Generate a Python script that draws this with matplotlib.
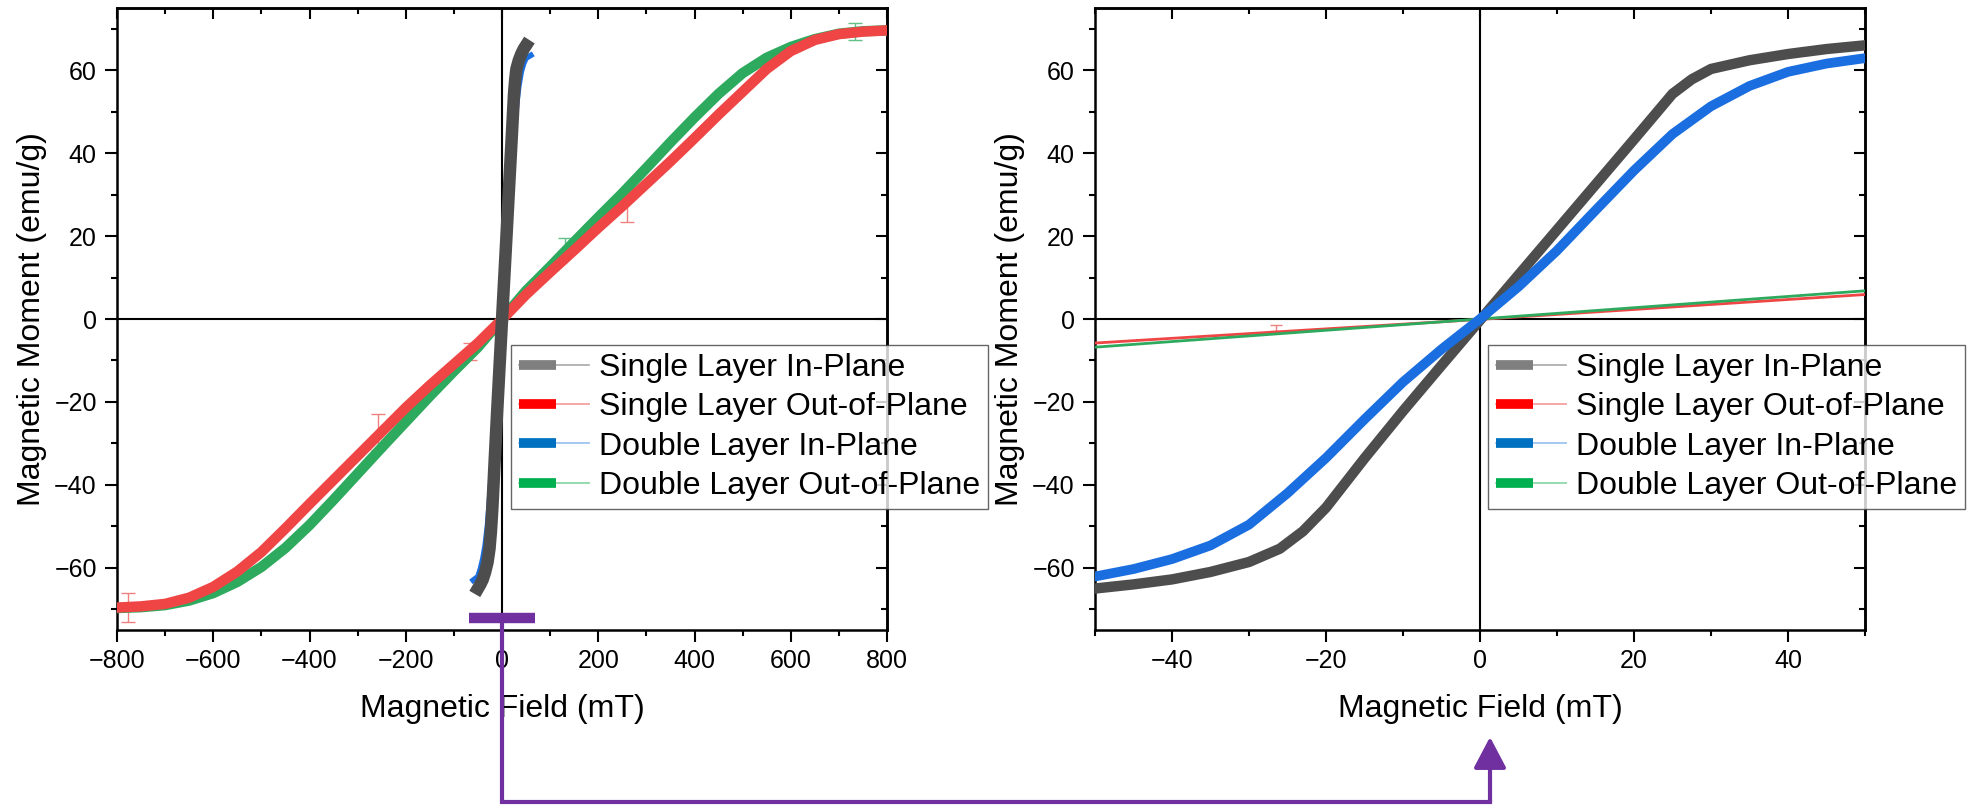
import numpy as np
import matplotlib.pyplot as plt
from matplotlib.lines import Line2D
from matplotlib.patches import FancyArrowPatch
from matplotlib.legend_handler import HandlerBase
from matplotlib.ticker import MultipleLocator

plt.rcParams['font.family'] = ['Liberation Sans', 'DejaVu Sans']
plt.rcParams['axes.unicode_minus'] = True

# Single Layer In-Plane (mT, emu/g)
sl_ip_x = [-50, -45, -40, -35, -30, -26, -23, -20, -15, -10, -5, 0,
           5, 10, 15, 20, 25, 27.5, 30, 35, 40, 45, 50]
sl_ip_y = [-65.0, -64.0, -62.8, -61.0, -58.6, -55.4, -51.2, -45.5, -33.6, -22.2, -11.2, -0.3,
           10.6, 21.5, 32.4, 43.3, 54.3, 57.8, 60.3, 62.4, 63.9, 65.1, 66.0]

# Double Layer In-Plane
dl_ip_x = [-60, -50, -45, -40, -35, -30, -25, -20, -15, -10, -5, 0,
           5, 10, 15, 20, 25, 30, 35, 40, 45, 50, 60]
dl_ip_y = [-63.0, -62.1, -60.3, -57.9, -54.6, -49.6, -42.0, -33.5, -24.2, -15.2, -7.3, 0.0,
           7.8, 16.5, 26.2, 35.8, 44.6, 51.3, 56.2, 59.6, 61.6, 62.9, 63.6]

# Single Layer Out-of-Plane
sl_op_x = [-800, -750, -700, -650, -600, -550, -500, -450, -400, -350, -300, -250, -200, -150, -100, -50, 0,
           50, 100, 150, 200, 250, 300, 350, 400, 450, 500, 550, 600, 650, 700, 750, 800]
sl_op_y = [-69.6, -69.3, -68.7, -67.2, -64.6, -60.9, -56.2, -50.5, -44.6, -38.8, -33.0, -27.2, -21.4, -16.0, -10.9, -5.8, -0.1,
           5.9, 11.3, 16.6, 22.0, 27.2, 32.6, 38.0, 43.6, 49.3, 54.8, 60.3, 64.6, 67.3, 68.7, 69.3, 69.6]

# Double Layer Out-of-Plane
dl_op_x = [-800, -750, -700, -650, -600, -550, -500, -450, -400, -350, -300, -250, -200, -150, -100, -50, 0,
           50, 100, 150, 200, 250, 300, 350, 400, 450, 500, 550, 600, 650, 700, 750, 800]
dl_op_y = [-69.7, -69.5, -69.0, -67.9, -66.1, -63.4, -59.8, -55.2, -49.7, -43.6, -37.3, -31.0, -24.8, -18.6, -12.6, -6.8, 0.0,
           6.8, 12.6, 18.6, 24.5, 30.3, 36.4, 42.6, 48.6, 54.3, 59.3, 63.0, 65.6, 67.5, 68.8, 69.4, 69.6]

# sparse error bars
sl_op_eb_x = [-777, -257, -67, 259]
sl_op_eb_y = [-69.6, -27.3, -7.9, 27.5]
sl_op_eb_err = [3.5, 4.3, 2.0, 4.2]
dl_op_eb_x = [733, 131]
dl_op_eb_y = [69.3, 18.0]
dl_op_eb_err = [2.0, 1.5]
zoom_eb_x = [-26.5]
zoom_eb_y = [-2.2]
zoom_eb_err = [0.8]

labels = ["Single Layer In-Plane", "Single Layer Out-of-Plane",
          "Double Layer In-Plane", "Double Layer Out-of-Plane"]
dark_colors = ["#7f7f7f", "#ff0000", "#0070c0", "#00b050"]
light_colors = ["#b0b0b0", "#f4a0a0", "#9cc4f0", "#8fd8a8"]

PURPLE = "#7030a0"


class BarLineHandler(HandlerBase):
    """Origin-like legend symbol: thick bar on the left with a thin line through."""
    def __init__(self, dark, light):
        super().__init__()
        self.dark = dark
        self.light = light

    def create_artists(self, legend, orig_handle, xdescent, ydescent,
                       width, height, fontsize, trans):
        y = height / 2 - ydescent
        x0 = -xdescent
        thin = Line2D([x0, x0 + width], [y, y], color=self.light, lw=1.3,
                      transform=trans)
        thick = Line2D([x0, x0 + 0.53 * width], [y, y], color=self.dark, lw=7,
                       solid_capstyle='butt', transform=trans)
        return [thin, thick]


def style_axes(ax, xmajor, xminor):
    ax.set_ylim(-75, 75)
    ax.xaxis.set_major_locator(MultipleLocator(xmajor))
    ax.xaxis.set_minor_locator(MultipleLocator(xminor))
    ax.yaxis.set_major_locator(MultipleLocator(20))
    ax.yaxis.set_minor_locator(MultipleLocator(10))
    for sp in ax.spines.values():
        sp.set_linewidth(1.8)
    ax.tick_params(which='major', direction='out', length=8.5, width=1.5, labelsize=18)
    ax.tick_params(which='minor', direction='out', length=4.5, width=1.5)
    ax.tick_params(axis='x', pad=5)
    ax.tick_params(axis='y', pad=6)
    # inward ticks on top and right
    top = ax.secondary_xaxis('top')
    top.xaxis.set_major_locator(MultipleLocator(xmajor))
    top.xaxis.set_minor_locator(MultipleLocator(xminor))
    top.tick_params(which='major', direction='in', length=8, width=1.5, labeltop=False)
    top.tick_params(which='minor', direction='in', length=4.5, width=1.5)
    right = ax.secondary_yaxis('right')
    right.yaxis.set_major_locator(MultipleLocator(20))
    right.yaxis.set_minor_locator(MultipleLocator(10))
    right.tick_params(which='major', direction='in', length=8, width=1.5, labelright=False)
    right.tick_params(which='minor', direction='in', length=4.5, width=1.5)
    for s in (top, right):
        for sp in s.spines.values():
            sp.set_linewidth(1.8)
    ax.axhline(0, color='black', lw=1.5, zorder=1)
    ax.axvline(0, color='black', lw=1.5, zorder=1)
    ax.set_xlabel("Magnetic Field (mT)", fontsize=23, labelpad=15)
    ax.set_ylabel("Magnetic Moment (emu/g)", fontsize=23, labelpad=5)


def add_legend(ax, x0):
    handles = [Line2D([], [], color=c) for c in dark_colors]
    hmap = {h: BarLineHandler(d, l) for h, d, l in zip(handles, dark_colors, light_colors)}
    leg = ax.legend(handles, labels, handler_map=hmap, loc='upper left',
                    bbox_to_anchor=(x0, 0.458), borderaxespad=0, fontsize=23,
                    frameon=True, fancybox=False, borderpad=0.25, labelspacing=0.29,
                    handlelength=2.2, handletextpad=0.3)
    leg.get_frame().set_edgecolor('#404040')
    leg.get_frame().set_linewidth(1.0)
    leg.set_zorder(10)
    return leg


fig = plt.figure(figsize=(19.67, 8.06), dpi=100)
ax1 = fig.add_axes([117 / 1967, 176 / 806, 770 / 1967, 622 / 806])
ax2 = fig.add_axes([1095 / 1967, 176 / 806, 770 / 1967, 622 / 806])

# full field range
ax1.plot(dl_ip_x, dl_ip_y, color="#1a6ee0", lw=4, zorder=3)
ax1.plot(sl_ip_x, sl_ip_y, color="#4d4d4d", lw=9, zorder=4)
ax1.plot(dl_op_x, dl_op_y, color="#2eaa5e", lw=7.5, zorder=3)
ax1.plot(sl_op_x, sl_op_y, color="#ef4545", lw=7.5, zorder=3)
ax1.errorbar(sl_op_eb_x, sl_op_eb_y, yerr=sl_op_eb_err, fmt='none', ecolor="#f08080",
             elinewidth=1, capsize=5, capthick=1, zorder=2)
ax1.errorbar(dl_op_eb_x, dl_op_eb_y, yerr=dl_op_eb_err, fmt='none', ecolor="#60c088",
             elinewidth=1, capsize=5, capthick=1, zorder=2)
ax1.set_xlim(-800, 800)
style_axes(ax1, 200, 100)
add_legend(ax1, (511 - 117) / 770)

# low field detail
ax2.plot(sl_op_x, sl_op_y, color="#ef4545", lw=2, zorder=3)
ax2.plot(dl_op_x, dl_op_y, color="#2eaa5e", lw=2, zorder=3)
ax2.plot(sl_ip_x, sl_ip_y, color="#4d4d4d", lw=7.5, zorder=4)
ax2.plot(dl_ip_x, dl_ip_y, color="#1a6ee0", lw=7, zorder=4)
ax2.errorbar(zoom_eb_x, zoom_eb_y, yerr=zoom_eb_err, fmt='none', ecolor="#f08080",
             elinewidth=1, capsize=4, capthick=1, zorder=2)
ax2.set_xlim(-50, 50)
style_axes(ax2, 20, 10)
add_legend(ax2, (1488 - 1095) / 770)

# purple marker for the zoomed window and connector arrow
ax1.plot([-68, 68], [-72, -72], color=PURPLE, lw=7.5, solid_capstyle='butt',
         zorder=6, clip_on=False)
fig.canvas.draw()
to_fig = fig.transFigure.inverted()
start = to_fig.transform(ax1.transData.transform((0, -72)))
end_x = to_fig.transform(ax2.transData.transform((1.3, 0)))[0]
bottom_y = 4 / 806
tip_y = 69 / 806
fig.add_artist(Line2D([start[0], start[0], end_x], [start[1], bottom_y, bottom_y],
                      color=PURPLE, lw=3, solid_joinstyle='miter',
                      transform=fig.transFigure))
fig.add_artist(FancyArrowPatch((end_x, bottom_y), (end_x, tip_y),
                               transform=fig.transFigure, color=PURPLE, lw=3,
                               arrowstyle='-|>,head_length=0.95,head_width=0.5',
                               mutation_scale=20, shrinkA=0, shrinkB=0))

fig.savefig("out.png", dpi=100)
